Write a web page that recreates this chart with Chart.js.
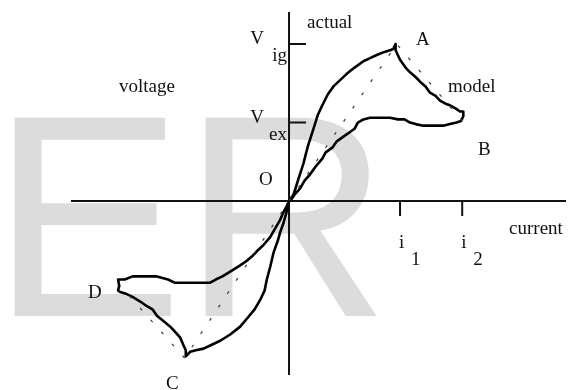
<!DOCTYPE html>
<html>
<head>
<meta charset="utf-8">
<title>voltage / current loop</title>
<script src="https://cdn.jsdelivr.net/npm/chart.js@4.4.1/dist/chart.umd.min.js"></script>
<style>
  html, body { margin: 0; padding: 0; background: #fff; }
  #wrap { width: 569px; height: 390px; }
</style>
</head>
<body>
<div id="wrap"><canvas id="loop" width="569" height="390"></canvas></div>
<script>
// current in units of i1, voltage in units of Vig
// path: O -> A -> B -> O -> C -> D -> O
const actualCurrent = [
  0, 0.04, 0.08, 0.13, 0.17, 0.22, 0.26, 0.30, 0.35, 0.40, 0.46, 0.52, 0.59, 0.67, 0.73, 0.79, 0.86, 0.91, 0.94, 0.96,
  0.96, 1.00, 1.05, 1.09, 1.14, 1.18, 1.23, 1.27, 1.32, 1.36, 1.41, 1.45, 1.50, 1.54, 1.57, 1.57, 1.55, 1.51,
  1.45, 1.39, 1.33, 1.27, 1.21, 1.14, 1.09, 1.04, 0.98, 0.91, 0.85, 0.78, 0.73, 0.67, 0.62, 0.59, 0.55, 0.49,
  0.43, 0.39, 0.33, 0.30, 0.24, 0.19, 0.14, 0.10, 0.05, 0.02, 0,
  -0.01, -0.03, -0.05, -0.08, -0.10, -0.14, -0.17, -0.20, -0.22, -0.26, -0.31, -0.38, -0.44, -0.53, -0.62, -0.71,
  -0.77, -0.84, -0.89, -0.93,
  -0.93, -0.95, -0.98, -1.03, -1.07, -1.14, -1.19, -1.23, -1.28, -1.34, -1.41, -1.47, -1.52, -1.54, -1.53, -1.54,
  -1.48, -1.41, -1.32, -1.25, -1.19, -1.14, -1.09, -1.03, -0.95, -0.89, -0.83, -0.77, -0.71, -0.66, -0.60, -0.53,
  -0.44, -0.38, -0.33, -0.29, -0.23, -0.17, -0.13, -0.08, -0.05, -0.02, 0
];
const actualVoltage = [
  0, 0.04, 0.13, 0.24, 0.35, 0.46, 0.55, 0.61, 0.68, 0.73, 0.77, 0.81, 0.85, 0.89, 0.91, 0.93, 0.95, 0.96, 0.97, 1.00,
  0.96, 0.90, 0.85, 0.82, 0.79, 0.76, 0.73, 0.69, 0.67, 0.64, 0.62, 0.61, 0.59, 0.57, 0.57, 0.54, 0.51, 0.50,
  0.49, 0.48, 0.48, 0.48, 0.48, 0.49, 0.50, 0.52, 0.52, 0.53, 0.53, 0.53, 0.53, 0.52, 0.50, 0.46, 0.44, 0.41,
  0.38, 0.34, 0.31, 0.27, 0.22, 0.17, 0.13, 0.08, 0.04, 0.01, 0,
  -0.04, -0.09, -0.14, -0.20, -0.25, -0.33, -0.42, -0.50, -0.57, -0.63, -0.69, -0.75, -0.80, -0.85, -0.89, -0.92,
  -0.94, -0.95, -0.96, -0.99,
  -0.95, -0.92, -0.87, -0.83, -0.80, -0.76, -0.73, -0.69, -0.67, -0.64, -0.61, -0.59, -0.58, -0.57, -0.54, -0.50,
  -0.50, -0.48, -0.48, -0.48, -0.48, -0.49, -0.50, -0.52, -0.52, -0.52, -0.52, -0.52, -0.52, -0.50, -0.48, -0.45,
  -0.41, -0.38, -0.35, -0.32, -0.28, -0.23, -0.18, -0.12, -0.07, -0.03, 0
];

// piecewise-linear model: B -> A -> O -> C -> D
const modelCurrent = [1.56, 0.97, 0, -0.94, -1.52];
const modelVoltage = [0.51, 1.00, 0, -1.00, -0.54];

const currentTicks = [1.0, 1.56];
const currentTickNames = ['1', '2'];
const voltageTicks = [1.0, 0.5];
const voltageTickNames = ['ig', 'ex'];

// free text, anchored in data units (left edge, baseline)
const notes = [
  { text: 'actual', x: 0.162, y: 1.102 },
  { text: 'voltage', x: -1.532, y: 0.694 },
  { text: 'O', x: -0.270, y: 0.102 },
  { text: 'A', x: 1.144, y: 0.994 },
  { text: 'model', x: 1.432, y: 0.694 },
  { text: 'B', x: 1.703, y: 0.293 },
  { text: 'current', x: 1.982, y: -0.210 },
  { text: 'D', x: -1.811, y: -0.618 },
  { text: 'C', x: -1.108, y: -1.197 }
];

const FONT = '19px "Liberation Serif", "Times New Roman", serif';
const INK = '#111';

const toPoints = (xs, ys) => xs.map((x, i) => ({ x, y: ys[i] }));

const paper = {
  id: 'paper',
  beforeDraw(chart) {
    const ctx = chart.ctx;
    ctx.save();
    ctx.fillStyle = '#fff';
    ctx.fillRect(0, 0, chart.width, chart.height);
    // faint background lettering
    ctx.fillStyle = '#dcdcdc';
    ctx.font = '288px "Liberation Sans", Arial, sans-serif';
    ctx.textBaseline = 'alphabetic';
    ctx.fillText('E', -9, 316);
    ctx.fillText('R', 182, 316);
    ctx.restore();
  },
  beforeDatasetsDraw(chart) {
    const { ctx, chartArea, scales } = chart;
    const x0 = scales.x.getPixelForValue(0);
    const y0 = scales.y.getPixelForValue(0);
    ctx.save();
    ctx.strokeStyle = INK;
    ctx.lineWidth = 2;
    ctx.beginPath();
    ctx.moveTo(chartArea.left, y0);
    ctx.lineTo(chartArea.right, y0);
    ctx.moveTo(x0, chartArea.top);
    ctx.lineTo(x0, chartArea.bottom);
    currentTicks.forEach(v => {
      const px = scales.x.getPixelForValue(v);
      ctx.moveTo(px, y0);
      ctx.lineTo(px, y0 + 15);
    });
    voltageTicks.forEach(v => {
      const py = scales.y.getPixelForValue(v);
      ctx.moveTo(x0, py);
      ctx.lineTo(x0 + 17, py);
    });
    ctx.stroke();
    ctx.restore();
  },
  afterDatasetsDraw(chart) {
    const { ctx, scales } = chart;
    const x0 = scales.x.getPixelForValue(0);
    const y0 = scales.y.getPixelForValue(0);
    ctx.save();
    ctx.fillStyle = INK;
    ctx.font = FONT;
    ctx.textBaseline = 'alphabetic';
    ctx.textAlign = 'left';
    notes.forEach(n => {
      ctx.fillText(n.text, scales.x.getPixelForValue(n.x), scales.y.getPixelForValue(n.y));
    });
    currentTicks.forEach((v, i) => {
      const px = scales.x.getPixelForValue(v);
      ctx.fillText('i', px - 1, y0 + 47);
      ctx.fillText(currentTickNames[i], px + 11, y0 + 64);
    });
    voltageTicks.forEach((v, i) => {
      const py = scales.y.getPixelForValue(v);
      ctx.textAlign = 'right';
      ctx.fillText('V', x0 - 25, py);
      ctx.fillText(voltageTickNames[i], x0 - 2, py + 17);
    });
    ctx.restore();
  }
};

new Chart(document.getElementById('loop'), {
  type: 'scatter',
  data: {
    datasets: [
      {
        label: 'model',
        data: toPoints(modelCurrent, modelVoltage),
        showLine: true,
        borderColor: '#444',
        borderWidth: 1.3,
        borderDash: [3, 13],
        pointRadius: 0,
        fill: false
      },
      {
        label: 'actual',
        data: toPoints(actualCurrent, actualVoltage),
        showLine: true,
        borderColor: '#000',
        borderWidth: 2.6,
        borderJoinStyle: 'round',
        borderCapStyle: 'round',
        pointRadius: 0,
        fill: false
      }
    ]
  },
  options: {
    responsive: false,
    devicePixelRatio: 1,
    animation: false,
    layout: { padding: { left: 71, right: 3, top: 12, bottom: 15 } },
    plugins: { legend: { display: false }, tooltip: { enabled: false } },
    scales: {
      x: { type: 'linear', min: -1.964, max: 2.495, display: false },
      y: { type: 'linear', min: -1.108, max: 1.204, display: false }
    }
  },
  plugins: [paper]
});
</script>
</body>
</html>
